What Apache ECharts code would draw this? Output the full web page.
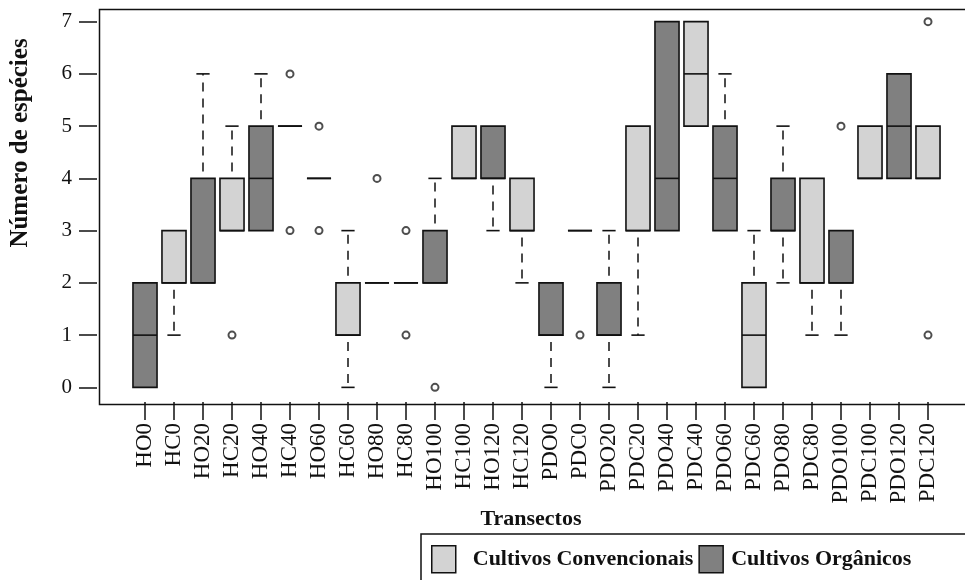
<!DOCTYPE html>
<html>
<head>
<meta charset="utf-8">
<script src="https://cdn.jsdelivr.net/npm/echarts@6/dist/echarts.min.js"></script>
<style>
html,body{margin:0;padding:0;background:#fff;}
#chart{width:965px;height:580px;}
</style>
</head>
<body>
<div id="chart"></div>
<script>
// ---- data ----
const categories = ['HO0','HC0','HO20','HC20','HO40','HC40','HO60','HC60','HO80','HC80','HO100','HC100','HO120','HC120',
  'PDO0','PDC0','PDO20','PDC20','PDO40','PDC40','PDO60','PDC60','PDO80','PDC80','PDO100','PDC100','PDO120','PDC120'];
// C = Cultivos Convencionais, O = Cultivos Orgânicos
const groups      = ['O','C','O','C','O','C','O','C','O','C','O','C','O','C','O','C','O','C','O','C','O','C','O','C','O','C','O','C'];
const lowWhisker  = [0,1,2,3,3,5,4,0,2,2,2,4,3,2,0,3,0,1,3,5,3,0,2,1,1,4,4,4];
const q1          = [0,2,2,3,3,5,4,1,2,2,2,4,4,3,1,3,1,3,3,5,3,0,3,2,2,4,4,4];
const medians     = [1,2,2,3,4,5,4,1,2,2,2,4,4,3,1,3,1,3,4,6,4,1,3,2,2,4,5,4];
const q3          = [2,3,4,4,5,5,4,2,2,2,3,5,5,4,2,3,2,5,7,7,5,2,4,4,3,5,6,5];
const highWhisker = [2,3,6,5,6,5,4,3,2,2,4,5,5,4,2,3,3,5,7,7,6,3,5,4,3,5,6,5];
const outlierCats   = ['HC20','HC40','HC40','HO60','HO60','HO80','HC80','HC80','HO100','PDC0','PDO100','PDC120','PDC120'];
const outlierValues = [1,6,3,5,3,4,3,1,0,1,5,7,1];
const yTicks = [0,1,2,3,4,5,6,7];
const legendNames = ['Cultivos Convencionais','Cultivos Orgânicos'];
const groupColors = {C:'#d3d3d3', O:'#808080'};

function boxData(g){
  const out = [];
  categories.forEach((c,i)=>{
    if(groups[i]===g) out.push([i, lowWhisker[i], q1[i], medians[i], q3[i], highWhisker[i]]);
  });
  return out;
}

function renderBox(params, api){
  const xi = api.value(0);
  const lo = api.value(1), b1 = api.value(2), md = api.value(3), b3 = api.value(4), hi = api.value(5);
  const band = api.size([1,0])[0];
  const bw = band*0.83, sw = bw*0.55;
  const pLo = api.coord([xi, lo]), pQ1 = api.coord([xi, b1]), pMd = api.coord([xi, md]);
  const pQ3 = api.coord([xi, b3]), pHi = api.coord([xi, hi]);
  const cx = pQ1[0];
  const ch = [];
  const dash = {stroke:'#111', lineWidth:1.5, lineDash:[9,7], lineDashOffset:9, fill:null};
  const solid = {stroke:'#111', lineWidth:1.6, fill:null};
  if(hi > b3){
    ch.push({type:'line', shape:{x1:cx,y1:pQ3[1],x2:cx,y2:pHi[1]}, style:dash});
    ch.push({type:'line', shape:{x1:cx-sw/2,y1:pHi[1],x2:cx+sw/2,y2:pHi[1]}, style:solid});
  }
  if(lo < b1){
    ch.push({type:'line', shape:{x1:cx,y1:pQ1[1],x2:cx,y2:pLo[1]}, style:dash});
    ch.push({type:'line', shape:{x1:cx-sw/2,y1:pLo[1],x2:cx+sw/2,y2:pLo[1]}, style:solid});
  }
  ch.push({type:'rect', shape:{x:cx-bw/2, y:pQ3[1], width:bw, height:pQ1[1]-pQ3[1]},
    style:{fill:api.visual('color'), stroke:'#111', lineWidth:1.6}});
  ch.push({type:'line', shape:{x1:cx-bw/2,y1:pMd[1],x2:cx+bw/2,y2:pMd[1]}, style:solid});
  return {type:'group', children:ch};
}

const serif = '"Liberation Serif","DejaVu Serif",serif';
const chart = echarts.init(document.getElementById('chart'), null, {renderer:'canvas'});
chart.setOption({
  animation:false,
  backgroundColor:'#fff',
  grid:{left:130.5, top:7, width:812, height:395},
  xAxis:{
    type:'category', data:categories,
    axisLine:{show:false, onZero:false},
    axisTick:{show:true, inside:false, alignWithLabel:true, length:18, lineStyle:{color:'#111', width:1.5}},
    axisLabel:{rotate:90, interval:0, margin:21, fontFamily:serif, fontSize:23, color:'#111'},
    splitLine:{show:false}
  },
  yAxis:{
    type:'value', min:-0.28, max:7.28, offset:33.5,
    axisLine:{show:false, onZero:false},
    axisTick:{show:true, inside:false, length:18, customValues:yTicks, lineStyle:{color:'#111', width:1.5}},
    axisLabel:{margin:25, fontFamily:serif, fontSize:21, color:'#111', customValues:yTicks},
    splitLine:{show:false}
  },
  legend:{
    left:421, top:534, width:560, orient:'horizontal',
    icon:'rect', itemWidth:24, itemHeight:27, itemGap:5,
    padding:[11,60,30,10],
    borderColor:'#111', borderWidth:1.5, backgroundColor:'#fff',
    textStyle:{fontFamily:serif, fontWeight:'bold', fontSize:22, color:'#111'},
    data:[
      {name:legendNames[0], itemStyle:{color:groupColors.C, borderColor:'#111', borderWidth:1.5},
        textStyle:{fontFamily:serif, fontWeight:'bold', fontSize:22, color:'#111', padding:[0,0,0,12]}},
      {name:legendNames[1], itemStyle:{color:groupColors.O, borderColor:'#111', borderWidth:1.5},
        textStyle:{fontFamily:serif, fontWeight:'bold', fontSize:22, color:'#111', padding:[0,0,0,3]}}
    ]
  },
  graphic:[
    {type:'rect', left:97, top:7, shape:{width:879, height:395}, style:{fill:null, stroke:'#111', lineWidth:1.5}, z:0, silent:true},
    {type:'text', x:21, y:143, rotation:Math.PI/2,
      style:{text:'Número de espécies', font:'bold 25px '+serif, fill:'#111', textAlign:'center', textVerticalAlign:'middle'}},
    {type:'text', x:531, y:519,
      style:{text:'Transectos', font:'bold 22px '+serif, fill:'#111', textAlign:'center', textVerticalAlign:'middle'}}
  ],
  series:[
    {name:legendNames[0], type:'custom', renderItem:renderBox, data:boxData('C'),
      encode:{x:0, y:[1,2,3,4,5]}, itemStyle:{color:groupColors.C, borderColor:'#111', borderWidth:1.5}, z:3},
    {name:legendNames[1], type:'custom', renderItem:renderBox, data:boxData('O'),
      encode:{x:0, y:[1,2,3,4,5]}, itemStyle:{color:groupColors.O, borderColor:'#111', borderWidth:1.5}, z:3},
    {name:'outliers', type:'scatter', data:outlierCats.map((c,i)=>[c, outlierValues[i]]),
      symbol:'emptyCircle', symbolSize:7, itemStyle:{color:'#222', borderColor:'#222', borderWidth:1.3}, z:4}
  ]
});
</script>
</body>
</html>
